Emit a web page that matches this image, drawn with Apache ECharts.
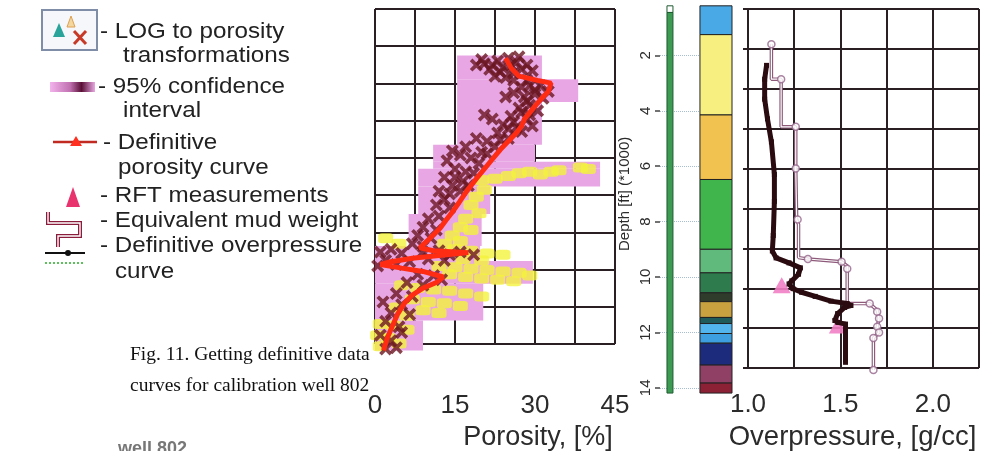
<!DOCTYPE html>
<html><head><meta charset="utf-8">
<script src="https://cdn.jsdelivr.net/npm/echarts@6/dist/echarts.min.js"></script>
<style>html,body{margin:0;padding:0;background:#fff}#c{width:982px;height:456px}</style>
</head><body><div id="c"></div>
<script>
// ---------------- DATA ----------------
// Tick labels
const porosityTicks = [0, 15, 30, 45];
const pressureTicks = [1.0, 1.5, 2.0];

// Lithology column: layer top / base depth (kft)
const lithoTop  = [0.21, 1.25, 4.15, 6.48, 9.00, 9.85, 10.57, 10.89, 11.46, 11.68, 12.04, 12.39, 13.18, 13.83];
const lithoBase = [1.25, 4.15, 6.48, 9.00, 9.85, 10.57, 10.89, 11.46, 11.68, 12.04, 12.39, 13.18, 13.83, 14.19];

// 95% confidence interval blocks: depth top/base, porosity low/high
const ciTop  = [2.00, 2.86, 3.68, 5.23, 5.84, 6.09, 6.73, 7.73, 8.88, 9.42, 10.24, 11.57];
const ciBase = [2.86, 3.68, 5.23, 5.84, 6.09, 6.73, 7.73, 8.88, 9.42, 10.24, 11.57, 12.65];
const ciLow  = [15.4, 15.4, 15.4, 10.9, 10.9, 8.1, 8.1, 6.3, 0, 0, 0, 0];
const ciHigh = [31.3, 38.1, 31.3, 30.0, 42.2, 42.2, 21.6, 20.0, 19.7, 29.6, 20.3, 9.0];

// Definitive porosity curve [porosity %, depth kft]
const porosityCurve = [[24.5,2.1],[25.5,2.45],[27,2.75],[30.5,2.9],[33,3.0],[32.5,3.3],[31,3.6],[29.5,3.95],[28,4.3],[27.5,4.55],[26.5,4.8],[25,5.1],[23.5,5.4],[22,5.75],[20.5,6.1],[19,6.45],[17.2,6.9],[15.8,7.3],[14.6,7.63],[13.3,7.95],[12.2,8.24],[10.3,8.6],[8.4,8.95],[11,9.05],[17.5,9.12],[12,9.22],[7,9.32],[3,9.45],[1,9.55],[5,9.68],[9,9.8],[12.8,10.0],[11.5,10.2],[9,10.4],[7,10.65],[5.5,10.95],[4.2,11.35],[3.2,11.8],[2.3,12.2],[1.6,12.65]];

// LOG to porosity transformations (dark crosses) [porosity, depth]
const logCrosses = [[19,2.35],[20.5,2.3],[21.5,2.5],[23,2.2],[24,2.45],[25,2.1],[26.5,2.25],[27.5,2.5],[28.5,2.35],[22.5,2.75],[24.5,2.8],[26,2.65],[29.5,2.55],[27,2.05],[28.5,2.9],
 [20,2.15],[22,2.35],[23.5,2.6],[25.5,2.35],[26,2.9],[27.5,3.15],[29,3.1],[30,3.25],[31.5,3.55],[28.5,3.65],[27.5,4.05],[29,4.15],[26,4.4],[27.5,4.75],[25,4.65],
 [31,3.1],[32.5,3.3],[30,3.4],[28,3.5],[26,3.35],[24.5,3.5],[29,3.8],[27,3.9],[30.5,4.0],[25.5,4.2],[28.5,4.3],[26.5,4.6],[24,4.5],[29.5,4.55],[23,4.8],[22,4.3],[20.5,4.15],
 [25,5.0],[21,5.1],[19,5.0],[17,5.3],[20,5.5],[18,5.7],[16,5.6],[14.5,5.45],[13.5,5.8],[15,6.1],[17,6.2],[13,6.4],[14.5,6.7],[12,6.9],[16,6.9],[13,7.2],[11.5,7.4],[14,7.5],
 [23.5,5.05],[22.5,5.3],[21,5.55],[19.5,5.9],[18.5,6.25],[16.5,6.55],[15,6.4],[14,7.0],[17.5,6.7],
 [12,7.8],[10,7.9],[9,8.2],[11.5,8.3],[8,8.5],[10.5,8.6],[7,8.8],[9,8.9],
 [1,9.1],[3,9.0],[5,9.15],[9,9.1],[12,9.05],[14,9.2],[16,9.1],[18.5,9.2],[2,9.4],[4,9.55],[6.5,9.45],[10,9.35],[13,9.4],[0.5,9.6],
 [8,9.9],[11,9.95],[12.5,10.1],[6,10.2],[9,10.3],[4,10.6],[7,10.7],[1.5,10.9],[5,11.0],[3,11.3],[6.5,11.35],[2,11.6],[4.5,11.8],[1,12.1],[3,12.3],[5,12.0],[2,12.6],[4,12.55]];

// LOG to porosity transformations (yellow) [porosity, depth]
const logYellow = [[25,6.35],[27,6.25],[29,6.2],[31,6.3],[33,6.2],[34.5,6.15],[38.5,6.05],[40,6.1],[20,6.5],[22.5,6.45],
 [20.5,6.85],[19,7.1],[18,7.4],[19.5,7.7],[17,7.9],[16,8.2],[18,8.3],[14.5,8.5],[16,8.7],[13,8.8],
 [2,8.6],[4.5,8.8],[15,9.0],[18,9.05],[21,9.15],[24,9.2],[16.5,9.35],[20,9.4],
 [12,9.6],[15,9.65],[18,9.7],[21,9.75],[24,9.8],[27,9.85],[29,9.95],[14,9.9],[17,10.0],[20,10.05],[23,10.1],[26,10.15],
 [5,10.3],[8,10.4],[11,10.45],[14,10.5],[17,10.6],[20,10.7],[7,10.8],[10,10.9],[13,10.95],[16,11.05],[4,11.1],[9,11.2],[12,11.3],[6,11.4],
 [1,11.7],[3.5,11.75],[6,11.9],[0.5,12.1],[2.5,12.2],[4.5,12.4],[1,12.5]];

// Definitive overpressure curve [g/cc, depth]
const overpressure = [[1.099,2.36],[1.089,2.86],[1.089,3.58],[1.104,4.29],[1.125,5.12],[1.141,6.3],[1.141,7.27],[1.135,8.5],[1.13,9.06],[1.15,9.31],[1.219,9.49],[1.28,9.67],[1.27,9.9],[1.234,10.14],[1.219,10.25],[1.24,10.42],[1.286,10.55],[1.359,10.7],[1.443,10.87],[1.53,10.96],[1.55,11.03],[1.516,11.1],[1.479,11.32],[1.464,11.57],[1.48,11.64],[1.521,11.7],[1.521,13.08]];

// Equivalent mud weight (step line) [g/cc, depth]
const mudWeight = [[1.125,1.6],[1.125,2.86],[1.177,2.86],[1.177,4.58],[1.255,4.58],[1.255,6.08],[1.26,7.92],[1.27,8.1],[1.27,9.3],[1.32,9.35],[1.50,9.45],[1.53,9.6],[1.53,10.96],[1.65,10.96],[1.69,11.2],[1.70,11.5],[1.69,11.8],[1.70,12.0],[1.67,12.2],[1.67,13.36]];
const mudPoints = [[1.125,1.6],[1.177,2.86],[1.255,4.58],[1.255,6.08],[1.265,7.92],[1.32,9.35],[1.5,9.45],[1.53,9.7],[1.65,10.96],[1.69,11.25],[1.70,11.5],[1.69,11.8],[1.70,12.0],[1.67,12.2],[1.67,13.36]];

// RFT measurements [g/cc, depth]
const rft = [[1.18,10.3],[1.48,11.75]];

// ---------------- STYLE ----------------
const lithoColors = ['#49a9e6','#f7ef80','#f1c24f','#3fb54c','#5fba7c','#2e7b4d','#2f3b2b','#c9a23f','#1f5b5b','#53b5ed','#3d9fe0','#1d2b7c','#8f4064','#8c2136'];
const gridColor = '#2a2024';
const labelColor = '#2b2b2b';

const chart = echarts.init(document.getElementById('c'), null, {renderer: 'canvas'});

function rectItem(x1, y1, x2, y2, style) {
  return {type: 'rect', shape: {x: x1, y: y1, width: x2 - x1, height: y2 - y1}, style: style};
}

const legendFont = '22px "Liberation Sans", Arial, sans-serif';
function legendText(x, y, t) {
  return {type: 'text', x: x, y: y, scaleX: 1.1, style: {text: t, font: legendFont, fill: '#222', align: 'left', verticalAlign: 'middle'}};
}
const captionFont = '19.5px "Liberation Serif", "Times New Roman", serif';

const option = {
  animation: false,
  backgroundColor: '#ffffff',
  grid: [
    {left: 375, top: 9, width: 240, height: 349.5},
    {left: 375, top: -2.8, width: 240, height: 390.6},
    {left: 660, top: -2.8, width: 72, height: 390.6},
    {left: 748, top: 9, width: 240, height: 375},
    {left: 748, top: -2.8, width: 240, height: 390.6}
  ],
  xAxis: [
    {gridIndex: 0, type: 'value', min: 0, max: 45, interval: 7.5,
     axisLine: {show: false},
     axisTick: {show: true, inside: false, length: 26, lineStyle: {color: gridColor, width: 2}},
     splitLine: {show: true, lineStyle: {color: gridColor, width: 2}},
     axisLabel: {margin: 49, fontSize: 26, color: labelColor, fontFamily: 'Liberation Sans',
       formatter: v => porosityTicks.indexOf(v) >= 0 ? String(v) : ''},
     name: 'Porosity, [%]', nameLocation: 'middle', nameGap: 68,
     nameTextStyle: {fontSize: 27, color: labelColor, fontFamily: 'Liberation Sans', padding: [0, 0, 0, 86]}},
    {gridIndex: 1, type: 'value', min: 0, max: 45, show: false},
    {gridIndex: 2, type: 'value', min: 0, max: 1, show: false},
    {gridIndex: 3, type: 'value', min: 1.0, max: 2.25, interval: 0.25,
     axisLine: {show: false},
     axisTick: {show: true, inside: false, length: 9, lineStyle: {color: gridColor, width: 2}},
     splitLine: {show: true, lineStyle: {color: gridColor, width: 2}},
     axisLabel: {margin: 24, fontSize: 26, color: labelColor, fontFamily: 'Liberation Sans',
       formatter: v => pressureTicks.some(t => Math.abs(t - v) < 1e-6) ? v.toFixed(1) : ''},
     name: 'Overpressure, [g/cc]', nameLocation: 'middle', nameGap: 43,
     nameTextStyle: {fontSize: 27.5, color: labelColor, fontFamily: 'Liberation Sans', padding: [0, 22, 0, 0]}},
    {gridIndex: 4, type: 'value', min: 1.0, max: 2.25, show: false}
  ],
  yAxis: [
    {gridIndex: 0, type: 'value', min: 0, max: 9, interval: 1, inverse: true,
     axisLine: {show: false}, axisTick: {show: false}, axisLabel: {show: false},
     splitLine: {show: true, lineStyle: {color: gridColor, width: 2}}},
    {gridIndex: 1, type: 'value', min: 0, max: 14, inverse: true, show: false},
    {gridIndex: 2, type: 'value', min: 0, max: 14, interval: 2, inverse: true,
     axisLine: {show: false},
     axisTick: {show: true, length: 5, lineStyle: {color: '#444', width: 1.5}},
     axisLabel: {rotate: 90, fontSize: 15, margin: 7, color: labelColor, showMinLabel: false, fontFamily: 'Liberation Sans'},
     splitLine: {show: true, showMinLine: false, lineStyle: {type: 'dotted', color: '#a6bdd2', width: 1}},
     name: 'Depth [ft] (*1000)', nameLocation: 'middle', nameRotate: 90, nameGap: 28,
     nameTextStyle: {fontSize: 15, color: labelColor, fontFamily: 'Liberation Sans'}},
    {gridIndex: 3, type: 'value', min: 0, max: 9, interval: 1, inverse: true,
     axisLine: {show: false},
     axisTick: {show: true, inside: false, length: 5, lineStyle: {color: gridColor, width: 2}},
     axisLabel: {show: false},
     splitLine: {show: true, lineStyle: {color: gridColor, width: 2}}},
    {gridIndex: 4, type: 'value', min: 0, max: 14, inverse: true, show: false}
  ],
  series: [
    // 95% confidence interval
    {type: 'custom', xAxisIndex: 1, yAxisIndex: 1, z: 2,
     data: ciTop.map((t, i) => [ciLow[i], t, ciHigh[i], ciBase[i]]),
     renderItem: (params, api) => {
       const p1 = api.coord([api.value(0), api.value(1)]);
       const p2 = api.coord([api.value(2), api.value(3)]);
       return rectItem(p1[0], p1[1], p2[0], p2[1], {fill: '#e8a7e4'});
     }},
    // yellow transformations
    {type: 'scatter', xAxisIndex: 1, yAxisIndex: 1, z: 3, data: logYellow,
     symbol: 'roundRect', symbolSize: [15, 10], itemStyle: {color: '#f4f23c'}},
    // dark crosses
    {type: 'scatter', xAxisIndex: 1, yAxisIndex: 1, z: 4, data: logCrosses,
     symbol: 'path://M0,2L2,0L5,3L8,0L10,2L7,5L10,8L8,10L5,7L2,10L0,8L3,5Z', symbolSize: 13,
     itemStyle: {color: '#6a1620'}},
    // definitive porosity curve
    {type: 'line', xAxisIndex: 1, yAxisIndex: 1, z: 5, data: porosityCurve,
     showSymbol: false, lineStyle: {color: '#ff2c14', width: 5}, clip: false},
    // lithology column
    {type: 'custom', xAxisIndex: 2, yAxisIndex: 2, z: 3,
     data: lithoTop.map((t, i) => [t, lithoBase[i]]),
     renderItem: (params, api) => {
       const p1 = api.coord([0.555, api.value(0)]);
       const p2 = api.coord([1.0, api.value(1)]);
       return rectItem(p1[0], p1[1], p2[0], p2[1], {fill: lithoColors[params.dataIndex], stroke: '#222', lineWidth: 1});
     }},
    // green well bar
    {type: 'custom', xAxisIndex: 2, yAxisIndex: 2, z: 3,
     data: [[lithoTop[0], 0.45], [0.45, lithoBase[lithoBase.length - 1]]],
     renderItem: (params, api) => {
       const p1 = api.coord([0.097, api.value(0)]);
       const p2 = api.coord([0.18, api.value(1)]);
       const fill = params.dataIndex === 0 ? '#ffffff' : '#3d9a52';
       return rectItem(p1[0], p1[1], p2[0], p2[1], {fill: fill, stroke: '#1f5a30', lineWidth: 1});
     }},
    // equivalent mud weight (double line)
    {type: 'line', xAxisIndex: 4, yAxisIndex: 4, z: 3, data: mudWeight, showSymbol: false,
     lineStyle: {color: '#8d5a7a', width: 3.5}},
    {type: 'line', xAxisIndex: 4, yAxisIndex: 4, z: 4, data: mudWeight, showSymbol: false,
     lineStyle: {color: '#ffffff', width: 1.2}},
    {type: 'scatter', xAxisIndex: 4, yAxisIndex: 4, z: 5, data: mudPoints,
     symbol: 'circle', symbolSize: 7, itemStyle: {color: '#ffffff', borderColor: '#93648a', borderWidth: 1.5}},
    // RFT measurements
    {type: 'scatter', xAxisIndex: 4, yAxisIndex: 4, z: 5, data: rft,
     symbol: 'triangle', symbolSize: [18, 16], itemStyle: {color: '#f27fc4', opacity: 0.9}},
    // definitive overpressure curve
    {type: 'line', xAxisIndex: 4, yAxisIndex: 4, z: 6, data: overpressure,
     symbol: 'rect', symbolSize: 5, showSymbol: true, itemStyle: {color: '#2a0b10'},
     lineStyle: {color: '#2a0b10', width: 5}}
  ],
  graphic: [
    // legend icons
    {type: 'rect', shape: {x: 42, y: 10, width: 55, height: 40}, style: {fill: '#f5f7fb', stroke: '#7f8ea6', lineWidth: 2}},
    {type: 'polygon', shape: {points: [[53,37],[59,23],[65,37]]}, style: {fill: '#2aa39a'}},
    {type: 'polygon', shape: {points: [[67,27],[71,16],[75,27]]}, style: {fill: '#f3d7a0', stroke: '#e0a050', lineWidth: 1}},
    {type: 'line', shape: {x1: 74, y1: 31, x2: 86, y2: 44}, style: {stroke: '#c83a28', lineWidth: 3}},
    {type: 'line', shape: {x1: 86, y1: 31, x2: 74, y2: 44}, style: {stroke: '#c83a28', lineWidth: 3}},
    {type: 'rect', shape: {x: 50, y: 82, width: 45, height: 10},
     style: {fill: new echarts.graphic.LinearGradient(0, 0, 1, 0, [
       {offset: 0, color: '#f3b3ec'}, {offset: 0.45, color: '#c070b0'}, {offset: 0.7, color: '#5a1036'}, {offset: 1, color: '#e9a8e3'}])}},
    {type: 'line', shape: {x1: 53, y1: 142, x2: 97, y2: 142}, style: {stroke: '#c02a20', lineWidth: 2.5}},
    {type: 'polygon', shape: {points: [[70,146],[76,136],[82,146]]}, style: {fill: '#ff3020'}},
    {type: 'polygon', shape: {points: [[66,207],[73,187],[80,207]]}, style: {fill: '#e8336f'}},
    {type: 'polyline', shape: {points: [[48,212],[48,223],[80,223],[80,236],[58,236],[58,247]]}, style: {stroke: '#8a1c3c', lineWidth: 4, fill: null}},
    {type: 'polyline', shape: {points: [[48,212],[48,223],[80,223],[80,236],[58,236],[58,247]]}, style: {stroke: '#ffffff', lineWidth: 1.4, fill: null}},
    {type: 'line', shape: {x1: 45, y1: 253, x2: 85, y2: 253}, style: {stroke: '#111', lineWidth: 2}},
    {type: 'circle', shape: {cx: 68, cy: 253, r: 3}, style: {fill: '#111'}},
    {type: 'line', shape: {x1: 45, y1: 263, x2: 85, y2: 263}, style: {stroke: '#5cc05c', lineWidth: 2, lineDash: [2, 2]}},
    // legend texts
    legendText(100, 32, '- LOG to porosity'),
    legendText(123, 56, 'transformations'),
    legendText(98, 87, '- 95% confidence'),
    legendText(123, 111, 'interval'),
    legendText(103, 143, '- Definitive'),
    legendText(118, 168, 'porosity curve'),
    legendText(100, 196, '- RFT measurements'),
    legendText(100, 221, '- Equivalent mud weight'),
    legendText(100, 246, '- Definitive overpressure'),
    legendText(115, 272, 'curve'),
    // caption
    {type: 'text', x: 130, y: 355, style: {text: 'Fig. 11. Getting definitive data', font: captionFont, fill: '#111', verticalAlign: 'middle'}},
    {type: 'text', x: 130, y: 386, style: {text: 'curves for calibration well 802', font: captionFont, fill: '#111', verticalAlign: 'middle'}},
    // partially cut remnant text at the bottom
    {type: 'text', x: 118, y: 449, style: {text: 'well 802', font: 'bold 18px "Liberation Sans", Arial, sans-serif', fill: '#777', verticalAlign: 'middle'}},
    {type: 'rect', shape: {x: 110, y: 451, width: 100, height: 6}, style: {fill: '#ffffff'}, z: 10}
  ]
};
chart.setOption(option);
</script></body></html>
